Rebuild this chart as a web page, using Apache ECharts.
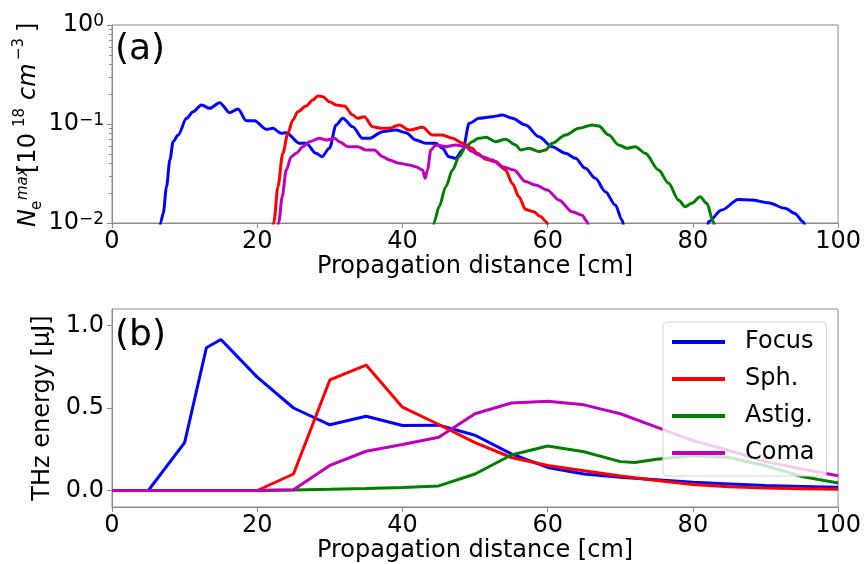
<!DOCTYPE html>
<html>
<head>
<meta charset="utf-8">
<script src="https://cdn.jsdelivr.net/npm/echarts@6/dist/echarts.min.js"></script>
<style>
  html, body { margin: 0; padding: 0; background: #fff; }
  #chart { width: 864px; height: 564px; }
</style>
</head>
<body>
<div id="chart"></div>
<script>
// (a) peak electron density
var focusDensX = [6.5, 6.73, 7.05, 7.51, 7.97, 8.42, 9.11, 10.26, 11.17, 12.32, 13.46, 14.84, 16.21, 17.35, 18.5, 19.64, 21.25, 22.16, 23.3, 24.0, 25.82, 26.74, 28.1, 28.9, 29.95, 30.86, 31.78, 33.15, 34.5, 35.44, 37.27, 39.1, 40.48, 41.85, 43.2, 44.6, 45.5, 46.4, 47.3, 48.3, 49.2, 50.55, 52.38, 53.75, 55.13, 56.96, 58.79, 60.62, 62.45, 63.83, 65.2, 66.57, 67.95, 69.32, 70.24, 70.6,
                  81.9, 82.14, 83.97, 86.26, 88.1, 90.38, 92.67, 94.05, 95.19, 95.5];
var focusDens = [0.008, 0.0103, 0.0125, 0.0233, 0.0433, 0.0663, 0.0774, 0.114, 0.133, 0.156, 0.144, 0.164, 0.130, 0.142, 0.108, 0.108, 0.0883, 0.0904, 0.0805, 0.0817, 0.0638, 0.0638, 0.0506, 0.0468, 0.0568, 0.0977, 0.114, 0.094, 0.0716, 0.0716, 0.0837, 0.0869, 0.0817, 0.0689, 0.0638, 0.0638, 0.0568, 0.0468, 0.045, 0.0546, 0.1016, 0.114, 0.1186, 0.123, 0.114, 0.0977, 0.0745, 0.059, 0.0506, 0.045, 0.0357, 0.0283, 0.0207, 0.0152, 0.0107, 0.0085,
                 0.008, 0.0103, 0.0135, 0.0173, 0.0171, 0.016, 0.0141, 0.0125, 0.0103, 0.009];

var sphDensX = [22.0, 22.3, 22.85, 23.53, 24.22, 24.9, 25.6, 26.74, 27.66, 28.34, 29.03, 29.95, 30.86, 32.0, 33.15, 33.84, 34.75, 35.9, 37.04, 38.19, 39.56, 40.93, 42.77, 44.14, 45.5, 46.9, 48.3, 49.6, 50.3, 51.47, 52.84, 54.2, 55.13, 56.04, 56.96, 58.1, 59.02, 59.8, 60.1];
var sphDens = [0.008, 0.0103, 0.0233, 0.0506, 0.0805, 0.1097, 0.133, 0.152, 0.175, 0.192, 0.189, 0.168, 0.156, 0.152, 0.123, 0.114, 0.1186, 0.094, 0.0904, 0.0904, 0.0977, 0.0869, 0.0925, 0.0774, 0.0774, 0.0716, 0.0638, 0.0568, 0.0506, 0.044, 0.0417, 0.0343, 0.0252, 0.0184, 0.0137, 0.013, 0.0116, 0.0103, 0.009];

var astigDensX = [44.2, 44.37, 45.05, 45.97, 46.9, 47.8, 48.72, 49.6, 50.5, 51.47, 52.84, 54.2, 55.59, 56.27, 57.42, 58.79, 59.71, 60.62, 62.45, 64.29, 66.12, 67.03, 68.41, 69.78, 70.93, 72.07, 73.45, 75.27, 76.65, 78.02, 78.94, 79.85, 81.0, 81.91, 82.83, 83.0];
var astigDens = [0.008, 0.0103, 0.0146, 0.0233, 0.0343, 0.0468, 0.059, 0.0663, 0.0716, 0.0733, 0.0663, 0.070, 0.0614, 0.0546, 0.0568, 0.0526, 0.0546, 0.0638, 0.0774, 0.0904, 0.0977, 0.0955, 0.0774, 0.0614, 0.0568, 0.059, 0.0506, 0.0343, 0.0252, 0.0171, 0.0146, 0.0158, 0.0184, 0.0158, 0.0103, 0.009];

var comaDensX = [22.7, 22.98, 23.44, 24.0, 24.68, 25.37, 26.28, 27.2, 28.57, 29.49, 30.63, 31.32, 32.46, 33.84, 34.98, 36.13, 37.27, 38.19, 39.56, 40.93, 41.85, 42.77, 43.13, 43.45, 43.91, 44.6, 45.97, 47.35, 48.72, 49.6, 50.5, 51.0, 52.38, 53.75, 55.36, 56.96, 58.33, 59.94, 61.54, 63.37, 64.74, 65.43, 65.7];
var comaDens = [0.008, 0.0103, 0.0184, 0.0343, 0.0468, 0.0506, 0.059, 0.0663, 0.0716, 0.0689, 0.0716, 0.0663, 0.059, 0.059, 0.0546, 0.0546, 0.0468, 0.0433, 0.0401, 0.0385, 0.037, 0.0343, 0.0283, 0.0343, 0.0546, 0.0614, 0.059, 0.0614, 0.059, 0.0526, 0.0486, 0.0468, 0.0433, 0.037, 0.0343, 0.0262, 0.0242, 0.0216, 0.0171, 0.013, 0.012, 0.0103, 0.009];

// (b) THz energy
var energyX = [0, 5, 10, 15, 20, 25, 30, 35, 40, 45, 50, 55, 60, 65, 70, 75, 80, 85, 90, 95, 100];
var focusEnergyX = [0, 5, 10, 13, 15, 20, 25, 30, 35, 40, 45, 50, 55, 60, 65, 70, 75, 80, 85, 90, 95, 100];
var focusEnergy = [0, 0, 0.29, 0.865, 0.915, 0.687, 0.50, 0.398, 0.45, 0.394, 0.396, 0.335, 0.222, 0.14, 0.10, 0.08, 0.065, 0.05, 0.04, 0.03, 0.025, 0.02];
var sphEnergy = [0, 0, 0, 0, 0, 0.10, 0.67, 0.76, 0.505, 0.40, 0.29, 0.20, 0.152, 0.12, 0.088, 0.06, 0.036, 0.022, 0.015, 0.01, 0.008];
var astigEnergyX = [0, 5, 10, 15, 20, 25, 30, 35, 40, 45, 50, 55, 60, 65, 70, 72, 75, 80, 85, 90, 95, 100];
var astigEnergy = [0, 0, 0, 0, 0, 0.003, 0.007, 0.012, 0.018, 0.028, 0.10, 0.215, 0.27, 0.235, 0.175, 0.17, 0.19, 0.21, 0.2, 0.15, 0.085, 0.045];
var comaEnergy = [0, 0, 0, 0, 0, 0.005, 0.152, 0.238, 0.279, 0.323, 0.465, 0.53, 0.541, 0.519, 0.465, 0.384, 0.303, 0.242, 0.175, 0.13, 0.09];

var names = ['Focus', 'Sph.', 'Astig.', 'Coma'];
var colors = ['#0000ff', '#ff0000', '#008000', '#bf00bf'];
var energyTicks = [0, 0.5, 1];

var zip = function(xs, ys) {
    return xs.map(function(x, i) { return [x, ys[i]]; });
};

// minor ticks of the log axis, in log10 units
var minorTicks = [];
[-2, -1].forEach(function(e) {
    for (var k = 2; k <= 9; k++) minorTicks.push(e + Math.log10(k));
});

var FONT = 'DejaVu Sans';
var FRAME = '#8c8c8c';

var chart = echarts.init(document.getElementById('chart'), null, { renderer: 'canvas' });

var xAxisBase = function(grid) {
    return {
        type: 'value', gridIndex: grid, min: 0, max: 100, interval: 20,
        name: 'Propagation distance [cm]', nameLocation: 'middle', nameGap: 30,
        nameTextStyle: { fontFamily: FONT, fontSize: 24, color: '#000' },
        axisLine: { show: true, onZero: false, lineStyle: { color: FRAME } },
        axisTick: { show: true, length: 5, lineStyle: { color: FRAME } },
        axisLabel: { fontFamily: FONT, fontSize: 24, color: '#000', margin: 7 },
        splitLine: { show: false }
    };
};

var densSeries = [
    [focusDensX, focusDens], [sphDensX, sphDens], [astigDensX, astigDens], [comaDensX, comaDens]
].map(function(d, i) {
    return {
        name: names[i], type: 'line', xAxisIndex: 0, yAxisIndex: 0,
        data: zip(d[0], d[1]), showSymbol: false, symbol: 'none', clip: true,
        smooth: 0.3, smoothMonotone: 'x',
        lineStyle: { color: colors[i], width: 3 }, itemStyle: { color: colors[i] }
    };
});

var energySeries = [
    [focusEnergyX, focusEnergy], [energyX, sphEnergy], [astigEnergyX, astigEnergy], [energyX, comaEnergy]
].map(function(d, i) {
    return {
        name: names[i], type: 'line', xAxisIndex: 1, yAxisIndex: 2,
        data: zip(d[0], d[1]), showSymbol: false, symbol: 'none', clip: true,
        lineStyle: { color: colors[i], width: 3 }, itemStyle: { color: colors[i] }
    };
});

// piece of the rotated y label; y is the offset across the text line
var labelPiece = function(x, y, txt, size, italic) {
    return {
        type: 'text', x: x, y: y,
        style: {
            text: txt, fontFamily: FONT, fontSize: size, fontStyle: italic ? 'italic' : 'normal',
            fill: '#000', textAlign: 'left', textVerticalAlign: 'middle'
        }
    };
};

var option = {
    animation: false,
    backgroundColor: '#fff',
    grid: [
        { left: 112, right: 24, top: 25, height: 198, show: true, borderColor: FRAME, borderWidth: 1 },
        { left: 112, right: 24, top: 309, height: 198, show: true, borderColor: FRAME, borderWidth: 1 }
    ],
    xAxis: [xAxisBase(0), xAxisBase(1)],
    yAxis: [
        {
            type: 'log', logBase: 10, gridIndex: 0, min: 0.01, max: 1,
            axisLine: { show: true, lineStyle: { color: FRAME } },
            axisTick: { show: true, length: 5, lineStyle: { color: FRAME } },
            axisLabel: {
                margin: 8, color: '#000',
                formatter: function(v) {
                    var e = Math.round(Math.log10(v));
                    return '{b|10}{s|' + (e < 0 ? '\u2212' + (-e) : e) + '}';
                },
                rich: {
                    b: { fontFamily: FONT, fontSize: 24, color: '#000' },
                    s: { fontFamily: FONT, fontSize: 17, color: '#000', verticalAlign: 'top' }
                }
            },
            splitLine: { show: false }
        },
        {
            // minor ticks for the log axis
            type: 'value', gridIndex: 0, min: -2, max: 0, position: 'left',
            axisLine: { show: false },
            axisLabel: { show: false },
            axisTick: { show: true, length: 3, customValues: minorTicks, lineStyle: { color: FRAME } },
            splitLine: { show: false }
        },
        {
            type: 'value', gridIndex: 1, min: -0.1, max: 1.1,
            name: 'THz energy [\u03bcJ]', nameLocation: 'middle', nameGap: 48,
            nameTextStyle: { fontFamily: FONT, fontSize: 24, color: '#000' },
            axisLine: { show: true, lineStyle: { color: FRAME } },
            axisTick: { show: true, length: 5, customValues: energyTicks, lineStyle: { color: FRAME } },
            axisLabel: {
                fontFamily: FONT, fontSize: 24, color: '#000', margin: 8,
                customValues: energyTicks,
                formatter: function(v) { return v.toFixed(1); }
            },
            splitLine: { show: false }
        }
    ],
    legend: {
        data: names,
        selectedMode: false,
        orient: 'vertical',
        left: 663, top: 322,
        padding: [7, 12, 10, 9],
        itemWidth: 53, itemHeight: 4, itemGap: 11,
        icon: 'rect',
        backgroundColor: 'rgba(255,255,255,0.8)',
        borderColor: '#d6d6d6', borderWidth: 1, borderRadius: 4,
        textStyle: { fontFamily: FONT, fontSize: 24, color: '#000', lineHeight: 26, padding: [0, 0, 0, 15] }
    },
    graphic: [
        { type: 'text', x: 115, y: 50, style: { text: '(a)', fontFamily: FONT, fontSize: 36, fill: '#000', textVerticalAlign: 'middle' } },
        { type: 'text', x: 115, y: 336, style: { text: '(b)', fontFamily: FONT, fontSize: 36, fill: '#000', textVerticalAlign: 'middle' } },
        {
            // N_e^max [10^18 cm^-3], written bottom to top
            type: 'group', x: 35, y: 227, rotation: Math.PI / 2,
            children: [
                labelPiece(0, -6, 'N', 24, true),
                labelPiece(17, 2, 'e', 15, false),
                labelPiece(27, -12, 'max', 15, true),
                labelPiece(54, -6, '[10', 24, false),
                labelPiece(100, -15, '18', 15, false),
                labelPiece(127, -6, 'cm', 24, true),
                labelPiece(167, -16, '\u22123', 15, false),
                labelPiece(195, -6, ']', 24, false)
            ]
        }
    ],
    series: densSeries.concat(energySeries)
};

chart.setOption(option);
</script>
</body>
</html>
